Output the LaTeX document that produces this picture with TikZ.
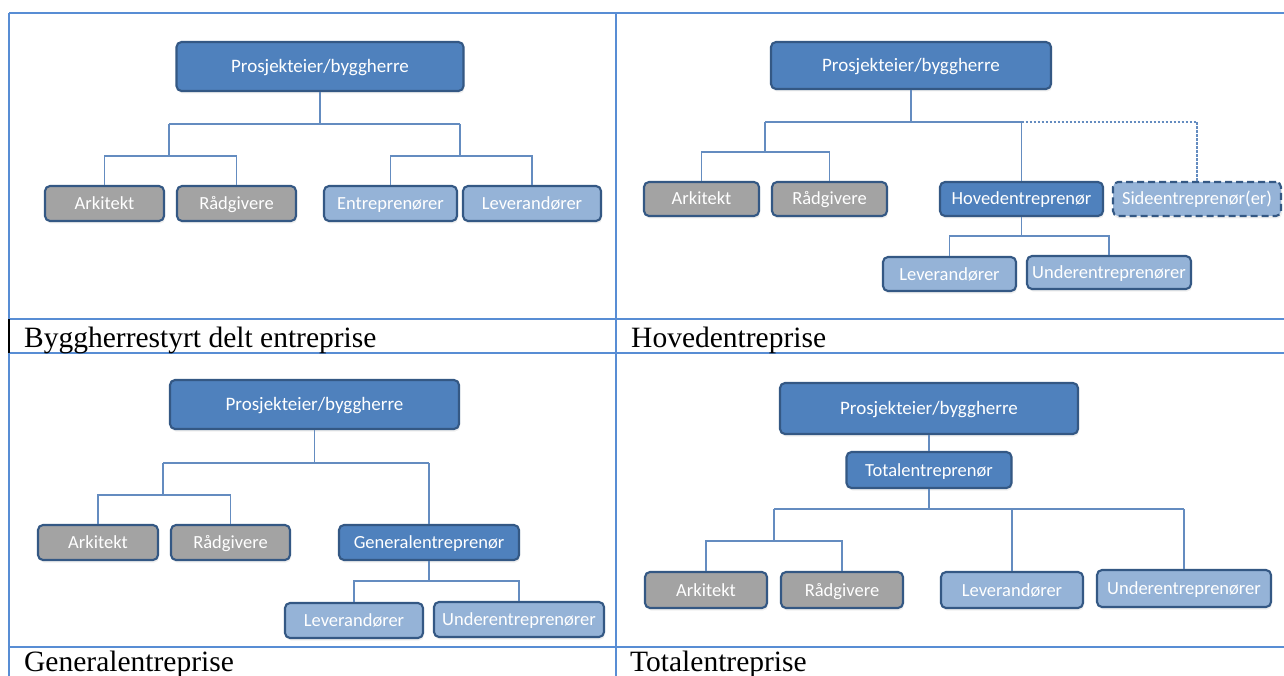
\documentclass[tikz,border=0pt]{standalone}
\usepackage{fontspec}
\setmainfont{Liberation Serif}
\newfontfamily\boxfont{Carlito}
\usetikzlibrary{shadows}
\definecolor{tline}{RGB}{88,141,212}
\definecolor{dkfill}{RGB}{79,129,189}
\definecolor{bordr}{RGB}{52,88,132}
\definecolor{grfill}{RGB}{163,163,163}
\definecolor{ltfill}{RGB}{149,179,215}
\definecolor{connc}{RGB}{100,140,192}
\tikzset{
  tbl/.style={draw=tline, line width=1.6pt},
  obox/.style={rounded corners=5pt, draw=bordr, line width=2.1pt, text=white,
    font=\boxfont\fontsize{18.5}{22}\selectfont, inner sep=0pt,
    text height=14pt, text depth=2pt,
    drop shadow={opacity=0.12, shadow xshift=1pt, shadow yshift=-2.5pt}},
  rootbox/.style={obox, fill=dkfill, font=\boxfont\fontsize{19}{22}\selectfont},
  dkbox/.style={obox, fill=dkfill},
  grbox/.style={obox, fill=grfill},
  ltbox/.style={obox, fill=ltfill},
  conn/.style={draw=connc, line width=1.3pt},
  dotconn/.style={conn, dash pattern=on 2.5pt off 1.5pt},
  caption/.style={anchor=base west, inner sep=0pt, font=\fontsize{29.5}{32}\selectfont}
}
\begin{document}
\begin{tikzpicture}[x=1pt,y=-1pt]
\useasboundingbox (0,0) rectangle (1284,676);
\clip (0,0) rectangle (1284,676);
\fill[white] (0,0) rectangle (1284,676);
% table grid
\draw[tbl] (9,13) -- (1290,13);
\draw[tbl, line width=2pt] (9,319) -- (1290,319);
\draw[tbl] (9,353) -- (1290,353);
\draw[tbl, line width=2pt] (9,647) -- (1290,647);
\draw[tbl] (9,13) -- (9,319);
\draw[tbl] (9,353) -- (9,680);
\draw[black, line width=2.2pt] (9,319) -- (9,353);
\draw[tbl] (616,13) -- (616,680);
% captions
\node[caption] (c1) at (24,347) {Byggherrestyrt delt entreprise};
\node[caption] (c2) at (631,347) {Hovedentreprise};
\node[caption] (c3) at (24,671.5) {Generalentreprise};
\node[caption] (c4) at (630,671.5) {Totalentreprise};

% ---------- Quadrant 1 ----------
\node[rootbox, minimum width=287pt, minimum height=49pt] (r1) at (320,66.5) {Prosjekteier/byggherre};
\node[grbox, minimum width=119pt, minimum height=35pt] (a1) at (104.5,203.5) {Arkitekt};
\node[grbox, minimum width=119pt, minimum height=35pt] (g1) at (236.5,203.5) {Rådgivere};
\node[ltbox, minimum width=133pt, minimum height=35pt] (e1) at (390.5,203.5) {Entreprenører};
\node[ltbox, minimum width=138pt, minimum height=35pt] (l1) at (532,203.5) {Leverandører};
\coordinate (q1a) at (320,124);
\coordinate (q1l) at (169,124);
\coordinate (q1r) at (460,124);
\coordinate (q1lh) at (169,156);
\coordinate (q1rh) at (460,156);
\draw[conn] (r1.south) -- (q1a);
\draw[conn] (q1l) -- (q1r);
\draw[conn] (q1l) -- (q1lh);
\draw[conn] (q1r) -- (q1rh);
\draw[conn] (a1.north) |- (q1lh) -| (g1.north);
\draw[conn] (e1.north) |- (q1rh) -| (l1.north);

% ---------- Quadrant 2 ----------
\node[rootbox, minimum width=280pt, minimum height=47pt] (r2) at (911,65.5) {Prosjekteier/byggherre};
\node[grbox, minimum width=115pt, minimum height=34pt] (a2) at (701.5,199) {Arkitekt};
\node[grbox, minimum width=115pt, minimum height=34pt] (g2) at (829.5,199) {Rådgivere};
\node[dkbox, minimum width=163pt, minimum height=34pt] (h2) at (1021.5,199) {Hovedentreprenør};
\node[ltbox, dash pattern=on 7pt off 4pt, minimum width=168pt, minimum height=34pt] (s2) at (1197,199) {Sideentreprenør(er)};
\node[ltbox, minimum width=133pt, minimum height=34pt] (l2) at (949.5,274) {Leverandører};
\node[ltbox, minimum width=164pt, minimum height=33pt] (u2) at (1109,272.5) {Underentreprenører};
\coordinate (q2a) at (911,122);
\coordinate (q2l) at (765,122);
\coordinate (q2r) at (1021.5,122);
\coordinate (q2s) at (1197,122);
\coordinate (q2lh) at (765,152);
\coordinate (q2hh) at (1021.5,236);
\draw[conn] (r2.south) -- (q2a);
\draw[conn] (q2l) -- (q2r);
\draw[conn] (q2l) -- (q2lh);
\draw[conn] (q2r) -- (h2.north);
\draw[dotconn] (q2r) -- (q2s) -- (s2.north);
\draw[conn] (a2.north) |- (q2lh) -| (g2.north);
\draw[conn] (h2.south) -- (q2hh);
\draw[conn] (l2.north) |- (q2hh) -| (u2.north);

% ---------- Quadrant 3 ----------
\node[rootbox, minimum width=289pt, minimum height=49pt] (r3) at (314.5,404.5) {Prosjekteier/byggherre};
\node[grbox, minimum width=120pt, minimum height=35pt] (a3) at (98,542.5) {Arkitekt};
\node[grbox, minimum width=119pt, minimum height=35pt] (g3) at (230.5,542.5) {Rådgivere};
\node[dkbox, minimum width=180pt, minimum height=35pt] (n3) at (429,542.5) {Generalentreprenør};
\node[ltbox, minimum width=138pt, minimum height=35pt] (l3) at (354,620.5) {Leverandører};
\node[ltbox, minimum width=170pt, minimum height=35pt] (u3) at (519,619.5) {Underentreprenører};
\coordinate (q3a) at (314.5,463);
\coordinate (q3l) at (163,463);
\coordinate (q3r) at (429,463);
\coordinate (q3lh) at (163,495);
\coordinate (q3nh) at (429,581);
\draw[conn] (r3.south) -- (q3a);
\draw[conn] (q3l) -- (q3r);
\draw[conn] (q3l) -- (q3lh);
\draw[conn] (q3r) -- (n3.north);
\draw[conn] (a3.north) |- (q3lh) -| (g3.north);
\draw[conn] (n3.south) -- (q3nh);
\draw[conn] (l3.north) |- (q3nh) -| (u3.north);

% ---------- Quadrant 4 ----------
\node[rootbox, minimum width=298pt, minimum height=51pt] (r4) at (929,408.5) {Prosjekteier/byggherre};
\node[dkbox, minimum width=165pt, minimum height=36pt] (t4) at (929,470) {Totalentreprenør};
\node[grbox, minimum width=122pt, minimum height=36pt] (a4) at (706,590) {Arkitekt};
\node[grbox, minimum width=122pt, minimum height=36pt] (g4) at (842,590) {Rådgivere};
\node[ltbox, minimum width=142pt, minimum height=36pt] (l4) at (1012,590) {Leverandører};
\node[ltbox, minimum width=174pt, minimum height=37pt] (u4) at (1184,588.5) {Underentreprenører};
\coordinate (q4a) at (929,509);
\coordinate (q4l) at (774,509);
\coordinate (q4r) at (1184,509);
\coordinate (q4lv) at (1012,509);
\coordinate (q4lh) at (774,541);
\draw[conn] (r4.south) -- (t4.north);
\draw[conn] (t4.south) -- (q4a);
\draw[conn] (q4l) -- (q4r);
\draw[conn] (q4l) -- (q4lh);
\draw[conn] (q4lv) -- (l4.north);
\draw[conn] (q4r) -- (u4.north);
\draw[conn] (a4.north) |- (q4lh) -| (g4.north);
\end{tikzpicture}
\end{document}
